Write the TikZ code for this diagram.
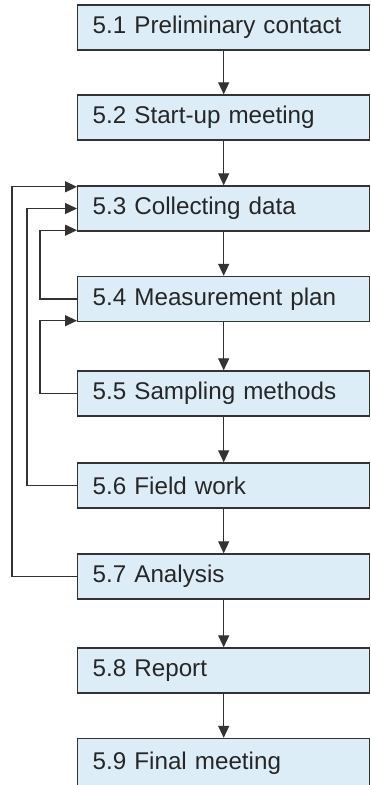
\documentclass[tikz,border=0pt]{standalone}
\usepackage{fontspec}
\setmainfont{Liberation Sans}
\usetikzlibrary{arrows.meta}
\definecolor{boxfill}{HTML}{DDEDF8}
\definecolor{lineclr}{HTML}{333333}
\begin{document}
\begin{tikzpicture}[x=1pt,y=-1pt,
  stepbox/.style={draw=lineclr, line width=1.4pt, fill=boxfill, rectangle,
    minimum height=45pt, text width=262pt, inner xsep=15pt, inner ysep=0pt,
    align=left, anchor=west, text=black!85,
    font=\fontsize{24.2}{28}\selectfont},
  arr/.style={draw=lineclr, line width=1.3pt, -{Triangle[length=12pt,width=11pt]}}]
\useasboundingbox (0,0) rectangle (370,785);
\node[stepbox] (b1) at (77,27.5) {5.1 Preliminary contact};
\node[stepbox] (b2) at (77,117.5) {5.2 Start-up meeting};
\node[stepbox] (b3) at (77,208.5) {5.3 Collecting data};
\node[stepbox] (b4) at (77,299) {5.4 Measurement plan};
\node[stepbox] (b5) at (77,393.5) {5.5 Sampling methods};
\node[stepbox] (b6) at (77,485.5) {5.6 Field work};
\node[stepbox] (b7) at (77,576.5) {5.7 Analysis};
\node[stepbox] (b8) at (77,670.5) {5.8 Report};
\node[stepbox, minimum height=50pt] (b9) at (77,763.5) {5.9 Final meeting};
\coordinate (l1) at (12,0);
\coordinate (l2) at (27,0);
\coordinate (l3) at (40,0);
\coordinate (t1) at ([yshift=-1.5pt]b3.north west);
\coordinate (t3) at ([yshift=1.5pt]b3.south west);
\coordinate (t4) at ([yshift=1.5pt]b4.south west);
\foreach \a/\b in {b1/b2,b2/b3,b3/b4,b4/b5,b5/b6,b6/b7,b7/b8,b8/b9}
  \draw[arr] (\a.south) -- (\b.north);
\draw[arr] (b7.west) -- (b7.west -| l1) -- (l1 |- t1) -- (t1);
\draw[arr] (b6.west) -- (b6.west -| l2) -- (l2 |- b3.west) -- (b3.west);
\draw[arr] (b4.west) -- (b4.west -| l3) -- (l3 |- t3) -- (t3);
\draw[arr] (b5.west) -- (b5.west -| l3) -- (l3 |- t4) -- (t4);
\end{tikzpicture}
\end{document}
